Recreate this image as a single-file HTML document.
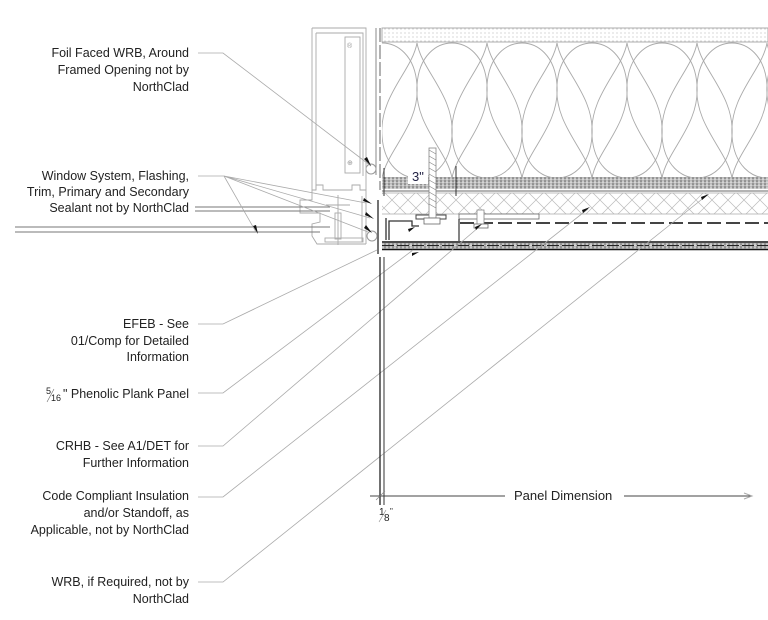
<!DOCTYPE html>
<html><head><meta charset="utf-8"><style>
html,body{margin:0;padding:0;background:#fff;}
svg{display:block;}
text{font-family:"Liberation Sans",sans-serif;font-size:12.5px;fill:#222;}
</style></head><body>
<svg width="768" height="620" viewBox="0 0 768 620" xmlns="http://www.w3.org/2000/svg">
<defs>
<pattern id="dots" width="4" height="4" patternUnits="userSpaceOnUse"><rect width="4" height="4" fill="#fff"/><circle cx="1" cy="1" r="0.5" fill="#999"/></pattern>
<pattern id="tex" width="4" height="3" patternUnits="userSpaceOnUse"><rect width="4" height="3" fill="#bbb"/><circle cx="1" cy="1" r="0.8" fill="#666"/><circle cx="3" cy="2.2" r="0.7" fill="#eee"/></pattern>
<pattern id="hatch" width="16" height="16" patternUnits="userSpaceOnUse"><rect width="16" height="16" fill="#fff"/><path d="M0 0L16 16M16 0L0 16M-2 14L2 18M14 -2L18 2" stroke="#bbb" stroke-width="0.7"/></pattern>
<clipPath id="insclip"><rect x="382" y="42" width="386" height="136"/></clipPath>
<path id="up" d="M0 178 C-5 150 -38 125 -35 85 C-33 55 -15 43 0 43 C15 43 33 55 35 85 C38 125 5 150 0 178"/>
<path id="dn" d="M0 43 C-5 71 -38 96 -35 136 C-33 166 -15 178 0 178 C15 178 33 166 35 136 C38 96 5 71 0 43"/>
</defs>

<!-- wall layers -->
<rect x="382" y="28" width="386" height="14" fill="url(#dots)" stroke="#999" stroke-width="0.8"/>
<g fill="none" stroke="#aaa" stroke-width="0.9" clip-path="url(#insclip)">
<use href="#up" x="382"/><use href="#up" x="452"/><use href="#up" x="522"/><use href="#up" x="592"/><use href="#up" x="662"/><use href="#up" x="732"/><use href="#up" x="802"/>
<use href="#dn" x="417"/><use href="#dn" x="487"/><use href="#dn" x="557"/><use href="#dn" x="627"/><use href="#dn" x="697"/><use href="#dn" x="767"/>
</g>
<rect x="382" y="177" width="386" height="12" fill="url(#tex)"/>
<line x1="382" y1="191" x2="768" y2="191" stroke="#888" stroke-width="1.2"/>
<rect x="382" y="193" width="386" height="21" fill="url(#hatch)"/>
<line x1="382" y1="193" x2="768" y2="193" stroke="#aaa" stroke-width="0.8"/>
<line x1="382" y1="214" x2="768" y2="214" stroke="#aaa" stroke-width="0.8"/>
<line x1="460" y1="223" x2="768" y2="223" stroke="#444" stroke-width="2" stroke-dasharray="14 5"/>
<line x1="382" y1="242" x2="768" y2="242" stroke="#111" stroke-width="1.5"/>
<rect x="382" y="243" width="386" height="6" fill="url(#tex)"/>
<line x1="382" y1="245.5" x2="768" y2="245.5" stroke="#222" stroke-width="1" stroke-dasharray="12 3"/>
<line x1="382" y1="249.5" x2="768" y2="249.5" stroke="#111" stroke-width="1.5"/>

<!-- rail -->
<path d="M386 240 L386 218 M389 240 L389 221 L412 221 L412 226 L419 226" fill="none" stroke="#333" stroke-width="1.3"/>
<rect x="416" y="215" width="30" height="4" fill="#fff" stroke="#444"/>
<rect x="459" y="214" width="80" height="5" fill="#fff" stroke="#666" stroke-width="0.8"/>
<line x1="459" y1="219" x2="459" y2="241" stroke="#333" stroke-width="1.2"/>
<!-- screws -->
<rect x="429" y="148" width="7" height="70" fill="#fff" stroke="#888" stroke-width="0.8"/>
<path d="M429 150 L436 154 M429 156 L436 160 M429 162 L436 166 M429 168 L436 172 M429 174 L436 178 M429 180 L436 184 M429 186 L436 190 M429 192 L436 196 M429 198 L436 202 M429 204 L436 208" stroke="#888" stroke-width="0.7"/>
<rect x="424" y="218" width="16" height="6" fill="#fff" stroke="#666" stroke-width="0.8"/>
<rect x="477" y="210" width="7" height="16" fill="#fff" stroke="#888" stroke-width="0.8"/>
<rect x="474" y="224" width="14" height="4" fill="#fff" stroke="#666" stroke-width="0.8"/>
<!-- dimension 3" -->
<line x1="384" y1="168" x2="384" y2="196" stroke="#333"/>
<line x1="456" y1="166" x2="456" y2="196" stroke="#333"/>
<rect x="408" y="168" width="20" height="16" fill="#fff"/>
<text x="412" y="181" style="font-size:13px;fill:#224">3"</text>

<!-- wall line -->
<line x1="376" y1="28" x2="376" y2="175" stroke="#888" stroke-width="1"/>
<line x1="380" y1="28" x2="380" y2="190" stroke="#666" stroke-width="1" stroke-dasharray="14 3"/>
<line x1="378" y1="200" x2="378" y2="254" stroke="#444" stroke-width="1.5"/>
<circle cx="371" cy="169" r="5" fill="none" stroke="#999"/>
<circle cx="372" cy="236" r="5" fill="none" stroke="#999"/>

<!-- window frame -->
<g fill="none" stroke="#aaa" stroke-width="0.9">
<path d="M312 28 L366 28 L366 190 M312 28 L312 190 M316 33 L363 33 L363 176 M316 33 L316 190"/>
<rect x="345" y="37" width="15" height="136"/>
<path d="M312 190 L316 190 L316 185 L323 185 L323 190 L352 190 L352 185 L360 185 L360 190 L366 190 L366 244 M312 190 L312 200 L300 200 L300 213 L320 213 L320 222 L312 224 L312 236 L317 244 L366 244"/>
<rect x="325" y="238" width="38" height="4"/>
<rect x="335" y="213" width="6" height="26"/>
<line x1="338" y1="195" x2="338" y2="245"/>
<line x1="326" y1="205" x2="350" y2="205"/>
<line x1="362" y1="196" x2="362" y2="242"/>
</g>
<text x="347" y="48" style="font-size:7px;fill:#999">®</text>
<text x="347" y="165" style="font-size:7px;fill:#999">⊕</text>
<!-- glass -->
<g stroke="#777" stroke-width="0.9">
<line x1="195" y1="207" x2="330" y2="207"/>
<line x1="195" y1="211" x2="330" y2="211"/>
<line x1="15" y1="227" x2="330" y2="227"/>
<line x1="15" y1="232" x2="320" y2="232"/>
</g>

<!-- leaders -->
<g fill="none" stroke="#aaa" stroke-width="0.8">
<path d="M198 53 L223 53 L371 166"/>
<path d="M198 176 L224 176 L366 203 M224 176 L370 218 M224 176 L368 232 M224 176 L256 232"/>
<path d="M198 324 L223 324 L377 250"/>
<path d="M198 393 L223 393 L413 250"/>
<path d="M198 446 L223 446 L479 227"/>
<path d="M198 497 L223 497 L588 209"/>
<path d="M198 582 L223 582 L706 196"/>
</g>
<g fill="#111">
<path d="M371 166 l-7 -7 l3 -2 z"/>
<path d="M372 204 l-9 -3 l1 -3 z"/>
<path d="M374 219 l-9 -4 l1 -3 z"/>
<path d="M372 233 l-8 -5 l2 -3 z"/>
<path d="M258 234 l-5 -8 l3 -1 z"/>
<path d="M415 227 l-6 5 l-1 -3 z"/>
<path d="M419 252 l-7 4 l0 -3 z"/>
<path d="M482 224 l-6 6 l-1 -3 z"/>
<path d="M590 207 l-7 6 l-1 -3 z"/>
<path d="M709 194 l-7 6 l-1 -3 z"/>
</g>

<!-- dimension below -->
<line x1="380" y1="257" x2="380" y2="505" stroke="#111" stroke-width="1.2"/>
<line x1="384" y1="257" x2="384" y2="505" stroke="#555" stroke-width="1.2"/>
<line x1="370" y1="496" x2="505" y2="496" stroke="#444" stroke-width="1"/>
<line x1="624" y1="496" x2="752" y2="496" stroke="#444" stroke-width="1"/>
<path d="M744 493 L752 496 L744 499" fill="none" stroke="#aaa"/>
<line x1="376" y1="500" x2="385" y2="491" stroke="#888" stroke-width="0.7"/>
<text x="514" y="500" style="font-size:13px">Panel Dimension</text>
<text x="379" y="515" style="font-size:10px">1</text>
<text x="384" y="521" style="font-size:10px">8</text>
<line x1="379" y1="522" x2="386" y2="510" stroke="#888" stroke-width="0.6"/>
<text x="390" y="514" style="font-size:8px">"</text>

<!-- labels -->
<g text-anchor="end">
<text x="189" y="57">Foil Faced WRB, Around</text>
<text x="189" y="74">Framed Opening not by</text>
<text x="189" y="91">NorthClad</text>
<text x="189" y="180">Window System, Flashing,</text>
<text x="189" y="196">Trim, Primary and Secondary</text>
<text x="189" y="212">Sealant not by NorthClad</text>
<text x="189" y="328">EFEB - See</text>
<text x="189" y="345">01/Comp for Detailed</text>
<text x="189" y="361">Information</text>
<text x="189" y="398">" Phenolic Plank Panel</text>
<text x="189" y="450">CRHB - See A1/DET for</text>
<text x="189" y="467">Further Information</text>
<text x="189" y="500">Code Compliant Insulation</text>
<text x="189" y="517">and/or Standoff, as</text>
<text x="189" y="534">Applicable, not by NorthClad</text>
<text x="189" y="586">WRB, if Required, not by</text>
<text x="189" y="603">NorthClad</text>
</g>
<text x="46" y="394" style="font-size:9px">5</text>
<text x="51" y="401" style="font-size:9px">16</text>
<line x1="47" y1="402" x2="54" y2="389" stroke="#666" stroke-width="0.6"/>
</svg>
</body></html>
